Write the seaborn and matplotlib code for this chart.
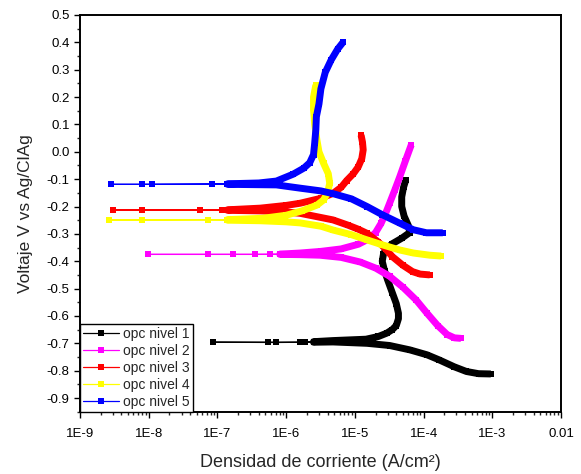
import pandas as pd
import matplotlib
matplotlib.use('Agg')
import matplotlib.pyplot as plt
from matplotlib.ticker import FixedLocator, FixedFormatter, LogLocator, NullFormatter
import seaborn as sns

# Curvas de polarizacion (Tafel): corriente (A/cm2) y voltaje (V vs Ag/ClAg)
series = ['opc nivel 1', 'opc nivel 2', 'opc nivel 3', 'opc nivel 4', 'opc nivel 5']
colores = ['#000000', '#ff00ff', '#ff0000', '#ffff00', '#0000ff']

corriente_n1 = [9.5e-4, 6.3e-4, 4.2e-4, 2.8e-4, 1.7e-4, 1.12e-4, 6.3e-5, 3.2e-5, 1.5e-5, 4.8e-6, 2.5e-6,
                1.9e-6, 7.1e-7, 8.5e-8, 5.4e-7, 1.6e-6,
                2.5e-6, 4.8e-6, 1.45e-5, 2.2e-5, 2.9e-5, 3.5e-5, 4.0e-5, 4.3e-5, 4.3e-5, 4.0e-5,
                3.5e-5, 3.0e-5, 2.7e-5, 2.5e-5, 2.6e-5, 2.8e-5, 3.5e-5, 4.8e-5, 6.3e-5, 6.0e-5,
                5.2e-5, 4.8e-5, 4.8e-5, 5.1e-5, 5.5e-5]
voltaje_n1 = [-0.812, -0.811, -0.803, -0.786, -0.761, -0.742, -0.724, -0.708, -0.700, -0.695, -0.696,
              -0.696, -0.697, -0.696, -0.696, -0.696,
              -0.694, -0.690, -0.685, -0.675, -0.663, -0.650, -0.635, -0.610, -0.590, -0.555,
              -0.515, -0.469, -0.435, -0.400, -0.375, -0.357, -0.336, -0.316, -0.295, -0.270,
              -0.235, -0.200, -0.165, -0.130, -0.103]

corriente_n2 = [3.5e-4, 2.8e-4, 2.2e-4, 1.6e-4, 1.12e-4, 7.8e-5, 5.0e-5, 3.2e-5, 2.0e-5, 1.2e-5,
                6.3e-6, 3.1e-6, 1.6e-6, 8.1e-7,
                5.8e-7, 1.7e-7, 9.8e-9, 7.2e-8, 3.5e-7,
                8.1e-7, 1.6e-6, 3.2e-6, 6.3e-6, 1.12e-5, 1.6e-5, 2.0e-5, 2.4e-5, 2.8e-5, 3.2e-5,
                3.8e-5, 4.5e-5, 5.4e-5, 6.6e-5]
voltaje_n2 = [-0.682, -0.680, -0.668, -0.635, -0.590, -0.542, -0.495, -0.455, -0.425, -0.403,
              -0.386, -0.378, -0.376, -0.375,
              -0.375, -0.375, -0.375, -0.375, -0.375,
              -0.374, -0.370, -0.364, -0.355, -0.338, -0.318, -0.295, -0.262, -0.225, -0.188,
              -0.140, -0.091, -0.035, 0.025]

corriente_n3 = [1.23e-4, 8.9e-5, 6.9e-5, 5.0e-5, 3.5e-5, 2.8e-5, 2.2e-5, 1.5e-5, 1.12e-5, 7.9e-6,
                4.8e-6, 1.6e-6, 1.0e-6, 4.2e-7, 1.4e-7,
                1.17e-7, 5.5e-8, 3.0e-9, 7.9e-9,
                1.4e-7, 4.2e-7, 1.0e-6, 1.6e-6, 3.2e-6, 4.8e-6, 6.3e-6, 7.6e-6, 9.5e-6, 1.12e-5,
                1.26e-5, 1.32e-5, 1.29e-5, 1.23e-5]
voltaje_n3 = [-0.450, -0.447, -0.438, -0.415, -0.383, -0.355, -0.330, -0.298, -0.283, -0.268,
              -0.249, -0.225, -0.220, -0.216, -0.214,
              -0.213, -0.213, -0.213, -0.213,
              -0.212, -0.206, -0.196, -0.188, -0.170, -0.152, -0.130, -0.105, -0.080, -0.055,
              -0.025, 0.007, 0.035, 0.061]

corriente_n4 = [1.8e-4, 1.23e-4, 7.1e-5, 4.5e-5, 2.5e-5, 1.5e-5, 8.9e-6, 4.8e-6, 3.2e-6, 1.6e-6,
                1.0e-6, 4.2e-7, 1.4e-7,
                7.2e-8, 2.6e-9, 7.9e-9,
                1.4e-7, 4.6e-7, 1.0e-6, 1.7e-6, 2.8e-6, 3.5e-6, 4.0e-6, 4.3e-6, 4.1e-6, 3.5e-6,
                3.0e-6, 2.8e-6, 2.6e-6, 2.5e-6, 2.5e-6, 2.7e-6]
voltaje_n4 = [-0.381, -0.378, -0.370, -0.359, -0.340, -0.322, -0.303, -0.286, -0.272, -0.260,
              -0.256, -0.252, -0.250,
              -0.249, -0.249, -0.249,
              -0.248, -0.243, -0.232, -0.216, -0.195, -0.176, -0.150, -0.115, -0.080, -0.042,
              0.000, 0.043, 0.100, 0.153, 0.200, 0.244]

corriente_n5 = [1.9e-4, 1.1e-4, 7.1e-5, 4.5e-5, 2.5e-5, 1.5e-5, 8.9e-6, 4.8e-6, 3.2e-6, 1.6e-6,
                7.2e-7, 1.4e-7,
                8.3e-8, 1.1e-8, 2.8e-9, 7.9e-9,
                1.4e-7, 4.0e-7, 7.2e-7, 1.26e-6, 1.8e-6, 2.2e-6, 2.5e-6, 2.6e-6, 2.7e-6, 2.75e-6,
                3.0e-6, 3.2e-6, 3.7e-6, 4.5e-6, 5.6e-6, 6.8e-6]
voltaje_n5 = [-0.296, -0.296, -0.285, -0.261, -0.230, -0.200, -0.172, -0.153, -0.143, -0.133,
              -0.121, -0.119,
              -0.119, -0.119, -0.119, -0.119,
              -0.117, -0.114, -0.107, -0.082, -0.060, -0.040, -0.010, 0.032, 0.080, 0.128,
              0.175, 0.230, 0.290, 0.335, 0.375, 0.402]

# por encima de esta corriente los puntos estan tan juntos que se ven como linea gruesa
umbral_denso = [2.4e-6, 8.0e-7, 1.3e-7, 1.3e-7, 1.3e-7]

x_ticks = [1e-9, 1e-8, 1e-7, 1e-6, 1e-5, 1e-4, 1e-3, 1e-2]
x_labels = ['1E-9', '1E-8', '1E-7', '1E-6', '1E-5', '1E-4', '1E-3', '0.01']
y_ticks = [0.5, 0.4, 0.3, 0.2, 0.1, 0.0, -0.1, -0.2, -0.3, -0.4, -0.5, -0.6, -0.7, -0.8, -0.9]
y_labels = ['0.5', '0.4', '0.3', '0.2', '0.1', '0.0', '-0.1', '-0.2', '-0.3', '-0.4',
            '-0.5', '-0.6', '-0.7', '-0.8', '-0.9']
y_minor = [0.45, 0.35, 0.25, 0.15, 0.05, -0.05, -0.15, -0.25, -0.35, -0.45, -0.55,
           -0.65, -0.75, -0.85, -0.95]

sns.set_style('ticks')
plt.rcParams['font.family'] = ['Liberation Sans', 'DejaVu Sans']
plt.rcParams['axes.unicode_minus'] = False

fig = plt.figure(figsize=(5.81, 4.74), dpi=100)
ax = fig.add_axes([0.1377, 0.1314, 0.828, 0.837])
ax.set_xscale('log')

corrientes = [corriente_n1, corriente_n2, corriente_n3, corriente_n4, corriente_n5]
voltajes = [voltaje_n1, voltaje_n2, voltaje_n3, voltaje_n4, voltaje_n5]

for nombre, color, corr, volt, umbral in zip(series, colores, corrientes, voltajes, umbral_denso):
    d = pd.DataFrame({'corriente': corr, 'voltaje': volt})
    sns.lineplot(data=d, x='corriente', y='voltaje', sort=False, estimator=None,
                 color=color, lw=0.9, marker='s', markersize=4.5, markeredgewidth=0,
                 label=nombre, ax=ax)
    sns.lineplot(data=d[d['corriente'] >= umbral], x='corriente', y='voltaje', sort=False,
                 estimator=None, color=color, lw=5.0, solid_capstyle='butt',
                 solid_joinstyle='round', legend=False, ax=ax)

ax.set_xlim(1e-9, 1e-2)
ax.set_ylim(-0.95, 0.5)
ax.xaxis.set_major_locator(FixedLocator(x_ticks))
ax.xaxis.set_major_formatter(FixedFormatter(x_labels))
ax.xaxis.set_minor_locator(LogLocator(base=10, subs=(2, 3, 4, 5, 6, 7, 8, 9), numticks=20))
ax.xaxis.set_minor_formatter(NullFormatter())
ax.yaxis.set_major_locator(FixedLocator(y_ticks))
ax.yaxis.set_major_formatter(FixedFormatter(y_labels))
ax.yaxis.set_minor_locator(FixedLocator(y_minor))

ax.tick_params(which='major', direction='out', length=4.5, width=1, labelsize=9.5,
               colors='black')
ax.tick_params(axis='x', which='major', pad=7)
ax.tick_params(axis='y', which='major', pad=3)
ax.tick_params(which='minor', direction='out', length=2.5, width=1)
for s in ax.spines.values():
    s.set_visible(True)
    s.set_linewidth(1.4)
    s.set_color('black')

ax.set_xlabel('Densidad de corriente (A/cm²)', fontsize=13, labelpad=10)
ax.set_ylabel('Voltaje V vs Ag/ClAg', fontsize=12.5, labelpad=10)

leg = ax.legend(loc='lower left', borderaxespad=0, fancybox=False, framealpha=1,
                edgecolor='black', fontsize=10, handlelength=2.6, handletextpad=0.3,
                labelspacing=0.22, borderpad=0.2)
leg.get_frame().set_linewidth(1.0)

plt.savefig('out.png', dpi=100)
